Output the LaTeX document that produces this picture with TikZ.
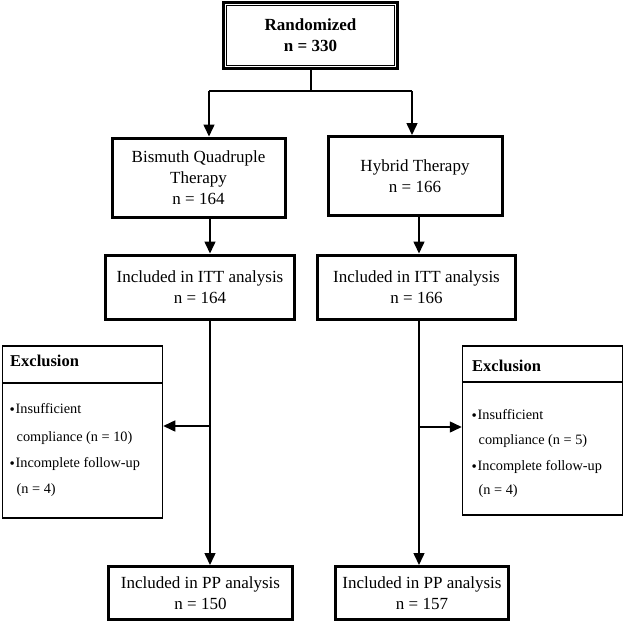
\documentclass[tikz,border=0pt]{standalone}
\usepackage{fontspec}
\setmainfont{Liberation Serif}
\usetikzlibrary{arrows.meta}
\newcommand\mybul{\makebox[6pt][l]{\fontsize{15}{15}\selectfont\raisebox{-1.6pt}{•}}}
\begin{document}
\begin{tikzpicture}[x=1pt,y=-1pt,
  box/.style={draw,rectangle,line width=3pt,inner sep=0pt,align=center,font=\fontsize{17}{21}\selectfont},
  exbox/.style={draw,rectangle,line width=1.5pt,inner sep=0pt},
  exhead/.style={anchor=base west,inner sep=0pt,font=\fontsize{16.5}{20}\selectfont\bfseries},
  exline/.style={anchor=base west,inner sep=0pt,font=\fontsize{14.3}{18}\selectfont},
  conn/.style={line width=1.5pt},
  arr/.style={conn,-{Triangle[length=12pt,width=11pt]}}]
\useasboundingbox (0,0) rectangle (625,622);

% Randomized (double border)
\node[box,line width=3.5pt,minimum width=174pt,minimum height=66pt] (rand) at (310.5,35.5)
  {\bfseries Randomized\\\bfseries n = 330};
\draw[line width=1pt] ([shift={(4.5pt,-4.5pt)}]rand.north west) rectangle ([shift={(-4.5pt,4.5pt)}]rand.south east);

% arms
\node[box,minimum width=173pt,minimum height=79pt] (bqt) at (198.5,177.5)
  {Bismuth Quadruple\\Therapy\\n = 164};
\node[box,minimum width=174pt,minimum height=79pt] (hyb) at (415,176)
  {Hybrid Therapy\\n = 166};

\node[box,minimum width=189pt,minimum height=64pt] (itt1) at (200,287)
  {Included in ITT analysis\\n = 164};
\node[box,minimum width=198pt,minimum height=64pt] (itt2) at (416.5,287)
  {Included in ITT analysis\\n = 166};

\node[box,minimum width=184pt,minimum height=53pt] (pp1) at (200.5,593)
  {Included in PP analysis\\n = 150};
\node[box,minimum width=173pt,minimum height=53pt] (pp2) at (422,593)
  {Included in PP analysis\\n = 157};

% Exclusion boxes
\node[exbox,minimum width=160pt,minimum height=172pt] (exL) at (82.5,432) {};
\coordinate (hL) at (0,383);
\draw[line width=1.5pt] (exL.west |- hL) -- (exL.east |- hL);
\node[exhead] (exLh) at (10,366) {Exclusion};
\node[exline] (exL1) at (9.5,413) {\mybul Insufficient};
\node[exline] (exL2) at (16.5,441) {compliance (n = 10)};
\node[exline] (exL3) at (9.5,467) {\mybul Incomplete follow-up};
\node[exline] (exL4) at (16.5,493) {(n = 4)};

\node[exbox,minimum width=160pt,minimum height=169pt] (exR) at (542.5,430.5) {};
\coordinate (hR) at (0,382);
\draw[line width=1.5pt] (exR.west |- hR) -- (exR.east |- hR);
\node[exhead] (exRh) at (472,371) {Exclusion};
\node[exline] (exR1) at (471.5,419) {\mybul Insufficient};
\node[exline] (exR2) at (478.5,444) {compliance (n = 5)};
\node[exline] (exR3) at (471.5,470) {\mybul Incomplete follow-up};
\node[exline] (exR4) at (478.5,494) {(n = 4)};

% connectors
\coordinate (split) at (311,91);
\coordinate (tL) at (209,91);
\coordinate (tR) at (412,91);
\coordinate (cL) at (210,0);
\coordinate (cR) at (419,0);
\draw[conn] (rand.south -| split) -- (split);
\draw[conn] (tL) -- (tR);
\draw[arr] (tL) -- (tL |- bqt.north);
\draw[arr] (tR) -- (tR |- hyb.north);

\draw[arr] (bqt.south -| cL) -- (itt1.north -| cL);
\draw[arr] (hyb.south -| cR) -- (itt2.north -| cR);
\draw[arr] (itt1.south -| cL) -- (pp1.north -| cL);
\draw[arr] (itt2.south -| cR) -- (pp2.north -| cR);

\coordinate (jL) at (210,426);
\coordinate (jR) at (419,427);
\draw[arr] (jL) -- (exL.east |- jL);
\draw[arr] (jR) -- (exR.west |- jR);
\end{tikzpicture}
\end{document}
